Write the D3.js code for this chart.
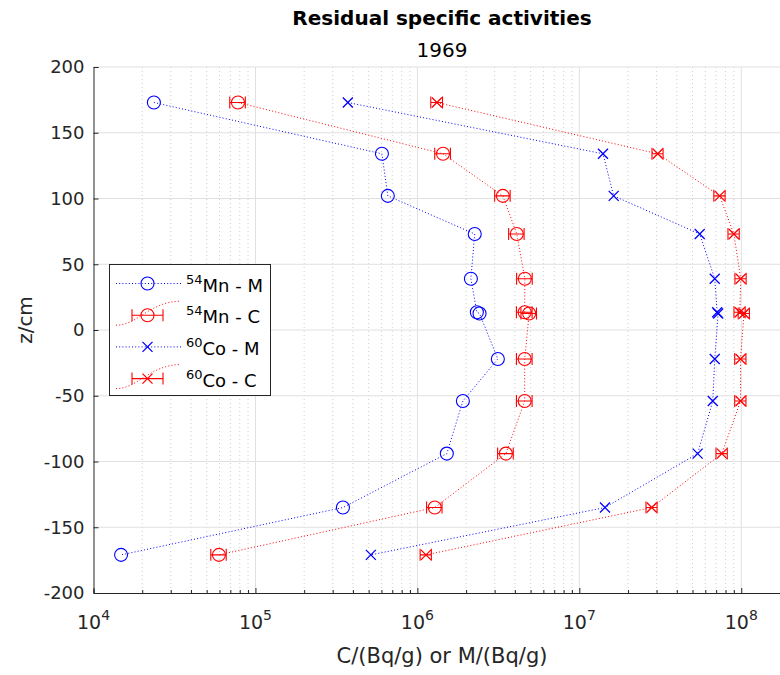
<!DOCTYPE html>
<html>
<head>
<meta charset="utf-8">
<script src="https://cdn.jsdelivr.net/npm/d3@7"></script>
<style>
  body { margin: 0; background: #fff; }
  svg { font-family: "DejaVu Sans", sans-serif; }
</style>
</head>
<body>
<div id="chart"></div>
<script>
// depth z (cm) of each sample, shared by all series
var zVals = [173, 134, 102, 73, 39, 13.5, 12.5, -22, -54, -94, -135, -171];

// 54Mn measured / calculated, 60Co measured / calculated (Bq/g)
var mnM = [2.36e4, 6.04e5, 6.57e5, 2.26e6, 2.14e6, 2.33e6, 2.42e6, 3.14e6, 1.91e6, 1.52e6, 3.47e5, 1.48e4];
var mnC = [7.8e4, 1.44e6, 3.37e6, 4.11e6, 4.61e6, 4.6e6, 4.9e6, 4.6e6, 4.6e6, 3.52e6, 1.28e6, 5.95e4];
var coM = [3.72e5, 1.40e7, 1.63e7, 5.54e7, 6.86e7, 7.1e7, 7.2e7, 6.86e7, 6.67e7, 5.38e7, 1.44e7, 5.16e5];
var coC = [1.32e6, 3.05e7, 7.36e7, 9.0e7, 9.93e7, 9.8e7, 1.04e8, 9.9e7, 9.9e7, 7.59e7, 2.8e7, 1.13e6];

// error bars of the calculated series
var mnCErr = [8.6e3, 1.6e5, 3.7e5, 4.5e5, 5.1e5, 5.1e5, 5.4e5, 5.1e5, 5.1e5, 3.9e5, 1.4e5, 6.5e3];
var coCErr = [1.1e5, 2.4e6, 5.9e6, 7.2e6, 7.9e6, 7.8e6, 8.3e6, 7.9e6, 7.9e6, 6.1e6, 2.2e6, 9.0e4];

var xMajor = [1e4, 1e5, 1e6, 1e7, 1e8];
var yTicks = [-200, -150, -100, -50, 0, 50, 100, 150, 200];

var W = 780, H = 675;
var pL = 93.5, pR = 790, pT = 67, pB = 593;
var axisCol = "#262626";

var svg = d3.select("#chart").append("svg")
    .attr("width", W).attr("height", H);

var x = d3.scaleLog().domain([1e4, 2e8]).range([pL, pR]);
var y = d3.scaleLinear().domain([-200, 200]).range([pB, pT]);

var xMinor = [];
xMajor.forEach(function(d) {
  for (var k = 2; k <= 9; k++) xMinor.push(d * k);
});

var plot = svg.append("g");

// grid
plot.selectAll(".gminor").data(xMinor).enter().append("line")
    .attr("x1", function(d) { return x(d); }).attr("x2", function(d) { return x(d); })
    .attr("y1", pT).attr("y2", pB)
    .attr("stroke", "#cfcfcf").attr("stroke-dasharray", "1,3");
plot.selectAll(".gmajor").data(xMajor.slice(1)).enter().append("line")
    .attr("x1", function(d) { return x(d); }).attr("x2", function(d) { return x(d); })
    .attr("y1", pT).attr("y2", pB)
    .attr("stroke", "#e0e0e0");
plot.selectAll(".gy").data(yTicks.slice(1)).enter().append("line")
    .attr("x1", pL).attr("x2", pR)
    .attr("y1", function(d) { return y(d); }).attr("y2", function(d) { return y(d); })
    .attr("stroke", "#e0e0e0");

// axes
var xa = svg.append("g").attr("transform", "translate(0," + pB + ")");
xa.call(d3.axisBottom(x).tickValues(xMinor).tickSize(-3).tickFormat(""));
xa.append("g").call(d3.axisBottom(x).tickValues(xMajor).tickSize(-5).tickFormat(""))
  .select(".domain").remove();
xa.selectAll("path, line").attr("stroke", axisCol);

var xl = svg.append("g").selectAll("text").data(xMajor).enter().append("text")
    .attr("x", function(d) { return x(d); })
    .attr("y", 629)
    .attr("text-anchor", "middle")
    .attr("fill", axisCol)
    .style("font-size", "19px");
xl.append("tspan").text("10");
xl.append("tspan").attr("dy", -9).style("font-size", "14px")
    .text(function(d) { return Math.round(Math.log10(d)); });

var ya = svg.append("g").attr("transform", "translate(" + pL + ",0)")
    .call(d3.axisLeft(y).tickValues(yTicks).tickSize(-5).tickPadding(9)
      .tickFormat(function(d) { return String(d); }));
ya.selectAll("path, line").attr("stroke", axisCol);
ya.selectAll("text").attr("fill", axisCol).style("font-size", "18px")
    .style("font-family", "DejaVu Sans, sans-serif");

// titles
svg.append("text").attr("x", 442).attr("y", 25).attr("text-anchor", "middle")
    .style("font-size", "20px").style("font-weight", "bold").attr("fill", "#000")
    .text("Residual specific activities");
svg.append("text").attr("x", 442).attr("y", 57).attr("text-anchor", "middle")
    .style("font-size", "20px").attr("fill", "#000").text("1969");
svg.append("text").attr("x", 442).attr("y", 663).attr("text-anchor", "middle")
    .style("font-size", "21px").attr("fill", axisCol).text("C/(Bq/g) or M/(Bq/g)");
svg.append("text").attr("transform", "translate(32,320) rotate(-90)")
    .attr("text-anchor", "middle")
    .style("font-size", "20px").attr("fill", axisCol).text("z/cm");

// series
var series = [
  { vals: mnM, err: null, col: "#0000ff", mark: "o" },
  { vals: mnC, err: mnCErr, col: "#ff0000", mark: "o" },
  { vals: coM, err: null, col: "#0000ff", mark: "x" },
  { vals: coC, err: coCErr, col: "#ff0000", mark: "x" }
];

var line = d3.line()
    .x(function(d) { return x(d[0]); })
    .y(function(d) { return y(d[1]); });

function drawMarker(g, mark, col) {
  if (mark === "o") {
    g.append("circle").attr("r", 6.5).attr("fill", "none")
      .attr("stroke", col).attr("stroke-width", 1.1);
  } else {
    g.append("path").attr("d", "M-5,-5L5,5M-5,5L5,-5").attr("fill", "none")
      .attr("stroke", col).attr("stroke-width", 1.3);
  }
}

series.forEach(function(s) {
  var pts = s.vals.map(function(v, i) { return [v, zVals[i]]; });
  plot.append("path").datum(pts).attr("d", line)
    .attr("fill", "none").attr("stroke", s.col).attr("stroke-width", 1)
    .attr("stroke-dasharray", "1,2.2");
  var g = plot.selectAll(null).data(pts.map(function(p, i) { return { p: p, i: i }; }))
    .enter().append("g")
    .attr("transform", function(d) { return "translate(" + x(d.p[0]) + "," + y(d.p[1]) + ")"; });
  if (s.err) {
    g.each(function(d) {
      var e = s.err[d.i], cx = x(d.p[0]);
      var lo = x(d.p[0] - e) - cx, hi = x(d.p[0] + e) - cx;
      d3.select(this).append("path")
        .attr("d", "M" + lo + ",0H" + hi + "M" + lo + ",-6V6M" + hi + ",-6V6")
        .attr("fill", "none").attr("stroke", s.col).attr("stroke-width", 1.1);
    });
  }
  g.each(function() { drawMarker(d3.select(this), s.mark, s.col); });
});

// legend
var lg = svg.append("g");
lg.append("rect").attr("x", 109.5).attr("y", 264.5).attr("width", 161).attr("height", 131)
  .attr("fill", "#fff").attr("stroke", axisCol).attr("stroke-width", 1);
var labels = [["54", "Mn - M"], ["54", "Mn - C"], ["60", "Co - M"], ["60", "Co - C"]];
series.forEach(function(s, i) {
  var ry = 283.5 + i * 31.7;
  if (s.err) {
    lg.append("path")
      .attr("d", "M116," + (ry + 10) + "C138," + (ry + 10) + " 150," + (ry - 14) + " 181," + (ry - 14))
      .attr("fill", "none").attr("stroke", s.col).attr("stroke-dasharray", "1,2.2");
    lg.append("path")
      .attr("d", "M132," + ry + "H163M132," + (ry - 6) + "V" + (ry + 6) + "M163," + (ry - 6) + "V" + (ry + 6))
      .attr("fill", "none").attr("stroke", s.col).attr("stroke-width", 1.1);
  } else {
    lg.append("line").attr("x1", 116).attr("x2", 181).attr("y1", ry).attr("y2", ry)
      .attr("stroke", s.col).attr("stroke-dasharray", "1,2.2");
  }
  drawMarker(lg.append("g").attr("transform", "translate(147.5," + ry + ")"), s.mark, s.col);
  var t = lg.append("text").attr("x", 186).attr("y", ry + 8)
    .attr("fill", "#000").style("font-size", "18px");
  t.append("tspan").attr("dy", -8).style("font-size", "13px").text(labels[i][0]);
  t.append("tspan").attr("dy", 8).text(labels[i][1]);
});
</script>
</body>
</html>
